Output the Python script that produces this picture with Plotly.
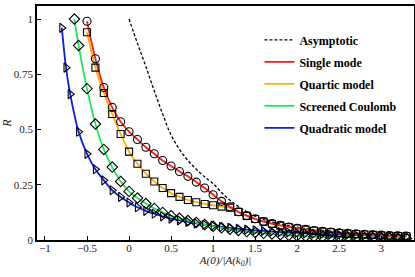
import plotly.graph_objects as go

# ---- data ----
x_single = [-0.5, -0.4, -0.3, -0.2, -0.1, 0.0, 0.1, 0.2, 0.3, 0.4, 0.5, 0.6, 0.7, 0.8, 0.9,
            1.0, 1.1, 1.2, 1.3, 1.4, 1.5, 1.6, 1.7, 1.8, 1.9, 2.0, 2.1, 2.2, 2.3, 2.4,
            2.5, 2.6, 2.7, 2.8, 2.9, 3.0, 3.1, 3.2, 3.3]
r_single = [0.99, 0.82, 0.69, 0.60, 0.535, 0.49, 0.455, 0.42, 0.39, 0.36, 0.335, 0.31, 0.288,
            0.262, 0.235, 0.205, 0.175, 0.15, 0.128, 0.11, 0.096, 0.084, 0.074, 0.066, 0.059,
            0.053, 0.048, 0.043, 0.039, 0.036, 0.033, 0.030, 0.028, 0.026, 0.024, 0.022,
            0.020, 0.019, 0.018]

x_quartic = x_single
r_quartic = [0.94, 0.78, 0.665, 0.57, 0.48, 0.40, 0.345, 0.30, 0.265, 0.235, 0.212, 0.195,
             0.181, 0.171, 0.163, 0.157, 0.151, 0.146, 0.127, 0.109, 0.095, 0.083, 0.073,
             0.065, 0.058, 0.052, 0.047, 0.042, 0.038, 0.035, 0.032, 0.029, 0.027, 0.025,
             0.023, 0.021, 0.019, 0.018, 0.017]

x_coulomb = [-0.65, -0.6, -0.5, -0.4, -0.3, -0.2, -0.1, 0.0, 0.1, 0.2, 0.3, 0.4, 0.5, 0.6,
             0.7, 0.8, 0.9, 1.0, 1.1, 1.2, 1.3, 1.4, 1.5, 1.6, 1.7, 1.8, 1.9, 2.0, 2.1, 2.2,
             2.3, 2.4, 2.5, 2.6, 2.7, 2.8, 2.9, 3.0, 3.1, 3.2, 3.3]
r_coulomb = [1.0, 0.88, 0.685, 0.525, 0.41, 0.33, 0.265, 0.22, 0.19, 0.165, 0.143, 0.125,
             0.11, 0.098, 0.088, 0.079, 0.07, 0.062, 0.055, 0.049, 0.043, 0.038, 0.034, 0.030,
             0.027, 0.024, 0.021, 0.019, 0.017, 0.015, 0.014, 0.013, 0.012, 0.011, 0.010,
             0.009, 0.0085, 0.008, 0.0075, 0.007, 0.0065]

x_quadratic = [-0.8, -0.75, -0.7, -0.6, -0.5, -0.4, -0.3, -0.2, -0.1, 0.0, 0.1, 0.2, 0.3,
               0.4, 0.5, 0.6, 0.7, 0.8, 0.9, 1.0, 1.1, 1.2, 1.3, 1.4, 1.5, 1.6, 1.7, 1.8,
               1.9, 2.0, 2.1, 2.2, 2.3, 2.4, 2.5, 2.6, 2.7, 2.8, 2.9, 3.0, 3.1, 3.2, 3.3]
r_quadratic = [0.96, 0.78, 0.66, 0.49, 0.39, 0.32, 0.27, 0.225, 0.195, 0.17, 0.148, 0.132,
               0.119, 0.107, 0.097, 0.089, 0.082, 0.075, 0.069, 0.064, 0.059, 0.055, 0.051,
               0.047, 0.044, 0.041, 0.038, 0.036, 0.034, 0.032, 0.030, 0.028, 0.027, 0.025,
               0.024, 0.023, 0.022, 0.021, 0.020, 0.019, 0.018, 0.017, 0.016]

x_asym = [0.0, 0.1, 0.2, 0.3, 0.4, 0.5, 0.6, 0.7, 0.8, 0.9, 1.0, 1.1, 1.2, 1.3, 1.4, 1.5,
          1.6, 1.8, 2.0, 2.2, 2.5, 2.8, 3.0, 3.3]
r_asym = [1.0, 0.89, 0.785, 0.675, 0.57, 0.475, 0.41, 0.36, 0.32, 0.285, 0.255, 0.215, 0.18,
          0.152, 0.128, 0.108, 0.093, 0.072, 0.058, 0.047, 0.036, 0.029, 0.025, 0.021]

x_ticks = [-1, -0.5, 0, 0.5, 1, 1.5, 2, 2.5, 3]
y_ticks = [0, 0.25, 0.5, 0.75, 1]
y_tick_labels = ["0", "0.25", "0.5", "0.75", "1"]

FONT = "Liberation Serif"
C_RED = "#ff1a1a"
C_ORANGE = "#ffb000"
C_GREEN = "#1ee85a"
C_BLUE = "#0a1ee6"

fig = go.Figure()

series = [
    ("Single mode", x_single, r_single, C_RED, "circle-open", 8),
    ("Quartic model", x_quartic, r_quartic, C_ORANGE, "square-open", 7),
    ("Screened Coulomb", x_coulomb, r_coulomb, C_GREEN, "diamond-open", 8),
    ("Quadratic model", x_quadratic, r_quadratic, C_BLUE, "triangle-right-open", 8),
]

# asymptotic dashed line
fig.add_trace(go.Scatter(x=x_asym, y=r_asym, mode="lines", name="Asymptotic",
                         line=dict(color="black", width=1.3, dash="3px,2px", shape="spline"),
                         legendgroup="g0", legendrank=1))

# model lines, added in reverse so red ends up on top
for i in reversed(range(len(series))):
    name, xs, ys, col, sym, sz = series[i]
    fig.add_trace(go.Scatter(x=xs, y=ys, mode="lines", name=name,
                             line=dict(color=col, width=1.8, shape="spline", smoothing=0.8),
                             legendgroup=f"g{i + 1}", legendrank=i + 2))

# markers
for name, xs, ys, col, sym, sz in reversed(series):
    fig.add_trace(go.Scatter(x=xs, y=ys, mode="markers", showlegend=False,
                             marker=dict(symbol=sym, size=sz, color="black",
                                         line=dict(color="black", width=1.1))))

axis_common = dict(showline=True, linecolor="black", linewidth=1.5, mirror=True,
                   ticks="inside", ticklen=4, tickwidth=1, tickcolor="black",
                   showgrid=False, zeroline=False, automargin=False,
                   tickfont=dict(family=FONT, size=11, color="#222"))

fig.update_layout(
    width=415, height=277,
    margin=dict(l=37, r=1, t=6, b=37),
    paper_bgcolor="white", plot_bgcolor="white",
    xaxis=dict(range=[-1.095, 3.39], tickvals=x_ticks, ticklabelstandoff=-3,
               title=dict(text="<i>A(0)/|A(k<sub>0</sub>)|</i>", standoff=2,
                          font=dict(family=FONT, size=11, color="#222")),
               **axis_common),
    yaxis=dict(range=[0, 1.059], tickvals=y_ticks, ticktext=y_tick_labels,
               title=dict(text="<i>R</i>", standoff=6,
                          font=dict(family=FONT, size=12, color="#222")),
               **axis_common),
    legend=dict(x=0.59, y=0.917, xanchor="left", yanchor="top",
                font=dict(family=FONT, size=12, color="black", weight="bold"),
                bgcolor="rgba(0,0,0,0)", traceorder="grouped", tracegroupgap=3,
                itemwidth=30),
    showlegend=True,
)

fig.write_html("out.html",
               config={"displayModeBar": False},
               post_script="document.body.style.margin='0';document.body.style.padding='0';")
